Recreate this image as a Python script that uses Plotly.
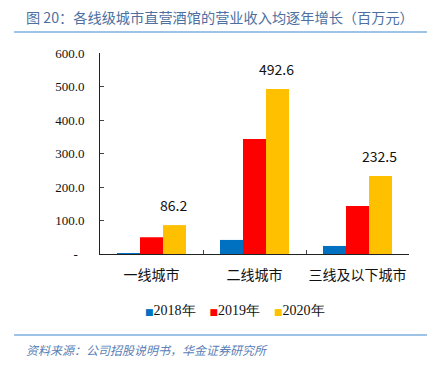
import plotly.graph_objects as go

categories = ["一线城市", "二线城市", "三线及以下城市"]
series_names = ["2018年", "2019年", "2020年"]
values_2018 = [1.0, 42.0, 24.0]
values_2019 = [50.0, 343.0, 143.0]
values_2020 = [86.2, 492.6, 232.5]
label_values = [86.2, 492.6, 232.5]
y_tickvals = [0, 100, 200, 300, 400, 500, 600]
y_ticktext = ["-\u2007", "100.0", "200.0", "300.0", "400.0", "500.0", "600.0"]

colors = ["#0070C0", "#FF0000", "#FFC000"]
series = [values_2018, values_2019, values_2020]
SERIF = "Liberation Serif"

fig = go.Figure()
for name, vals, c in zip(series_names, series, colors):
    fig.add_trace(go.Bar(x=categories, y=vals, name=name, marker_color=c,
                         marker_line_width=0, showlegend=False))

for cat, v in zip(categories, label_values):
    fig.add_annotation(x=cat, y=v, text=f"{v:.1f}", showarrow=False,
                       xref="x", yref="y", yanchor="bottom", xshift=22, yshift=8,
                       font=dict(family="Noto Sans CJK SC", size=14, color="#111"))

fig.update_layout(
    width=441, height=365,
    margin=dict(l=100, r=32, t=53, b=111, autoexpand=False),
    paper_bgcolor="white", plot_bgcolor="white",
    barmode="group", bargap=0.33, bargroupgap=0,
    showlegend=False,
    xaxis=dict(type="category", showline=True, linecolor="#222", linewidth=1,
               ticks="inside", tickson="boundaries", ticklen=4, tickcolor="#444",
               tickangle=0, automargin=False, ticklabelstandoff=8,
               tickfont=dict(family="Noto Sans CJK SC", size=14, color="#111"),
               showgrid=False, fixedrange=True),
    yaxis=dict(range=[0, 600], showline=True, linecolor="#222", linewidth=1,
               ticks="inside", ticklen=4, tickcolor="#444", automargin=False,
               tickvals=y_tickvals, ticktext=y_ticktext, ticklabelstandoff=12,
               tickfont=dict(family=SERIF, size=13, color="#111"),
               showgrid=False, zeroline=False),
    font=dict(family=SERIF),
)

# legend built from the series names and colours
legend_text = "\u2003".join(
    f'<span style="color:{c};font-size:9px;font-family:DejaVu Sans">\u25a0</span>{n}'
    for n, c in zip(series_names, colors))
fig.add_annotation(text=legend_text, xref="paper", yref="paper", x=0.437, y=-0.283,
                   xanchor="center", yanchor="middle", showarrow=False,
                   font=dict(family=SERIF, size=14, color="#111"))

fig.add_annotation(text="图 20：各线级城市直营酒馆的营业收入均逐年增长（百万元）",
                   xref="paper", yref="paper", x=-0.245, y=1.0, yshift=36,
                   xanchor="left", yanchor="middle", showarrow=False,
                   font=dict(family="Noto Sans CJK SC", size=14.2, color="#4E6FA0"))
fig.add_annotation(text="<i>资料来源：公司招股说明书，华金证券研究所</i>",
                   xref="paper", yref="paper", x=-0.245, y=0, yshift=-95,
                   xanchor="left", yanchor="middle", showarrow=False,
                   font=dict(family="Noto Sans CJK SC", size=12, color="#5A7FB5"))
for yy in [1.1045, -0.403]:
    fig.add_shape(type="line", xref="paper", yref="paper", x0=-0.278, x1=1.058,
                  y0=yy, y1=yy, line=dict(color="#9DC3E6", width=2))
fig.write_html("out.html", config={"displayModeBar": False},
               post_script="document.body.style.margin='0';document.body.style.overflow='hidden';")
